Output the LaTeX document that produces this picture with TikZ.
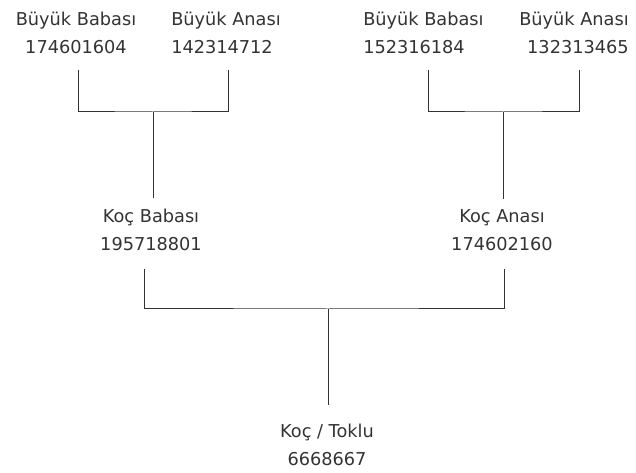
\documentclass[tikz,border=0pt]{standalone}
\usepackage{fontspec}
\setmainfont{DejaVu Sans}
\definecolor{ink}{HTML}{333333}
\begin{document}
\begin{tikzpicture}[x=0.75pt,y=-0.75pt,
  person/.style={inner sep=0pt, text=ink, font=\fontsize{13.3pt}{21pt}\selectfont},
  link/.style={draw=ink, line width=0.75pt}]
\useasboundingbox (0,0) rectangle (636,473);
% grandparents
\node[person, align=center] (gb1) at (76,33) {Büyük Babası\\174601604};
\node[person, align=left, anchor=west] (ga1) at (171,33) {Büyük Anası\\142314712};
\node[person, align=left, anchor=west] (gb2) at (363,33) {Büyük Babası\\152316184};
\node[person, align=right, anchor=east] (ga2) at (629,33) {Büyük Anası\\132313465};
% parents
\node[person, align=center] (sire) at (151,230) {Koç Babası\\195718801};
\node[person, align=center] (dam) at (502,230) {Koç Anası\\174602160};
% offspring
\node[person, align=center] (lamb) at (327,445) {Koç / Toklu\\6668667};
% connector points
\coordinate (l1) at (78,70);  \coordinate (l2) at (228,70);
\coordinate (lm) at (153,112);
\coordinate (r1) at (428,70); \coordinate (r2) at (579,70);
\coordinate (rm) at (503,112);
\coordinate (m1) at (144,269); \coordinate (m2) at (504,269);
\coordinate (mm) at (328,309);
\coordinate (sireTop) at (153,198);
\coordinate (damTop) at (503,199);
\coordinate (lambTop) at (328,405);
% brackets
\draw[link] (l1) |- (lm) -| (l2);
\draw[link] (lm) -- (sireTop);
\draw[link] (r1) |- (rm) -| (r2);
\draw[link] (rm) -- (damTop);
\draw[link] (m1) |- (mm) -| (m2);
\draw[link] (mm) -- (lambTop);
\end{tikzpicture}
\end{document}
